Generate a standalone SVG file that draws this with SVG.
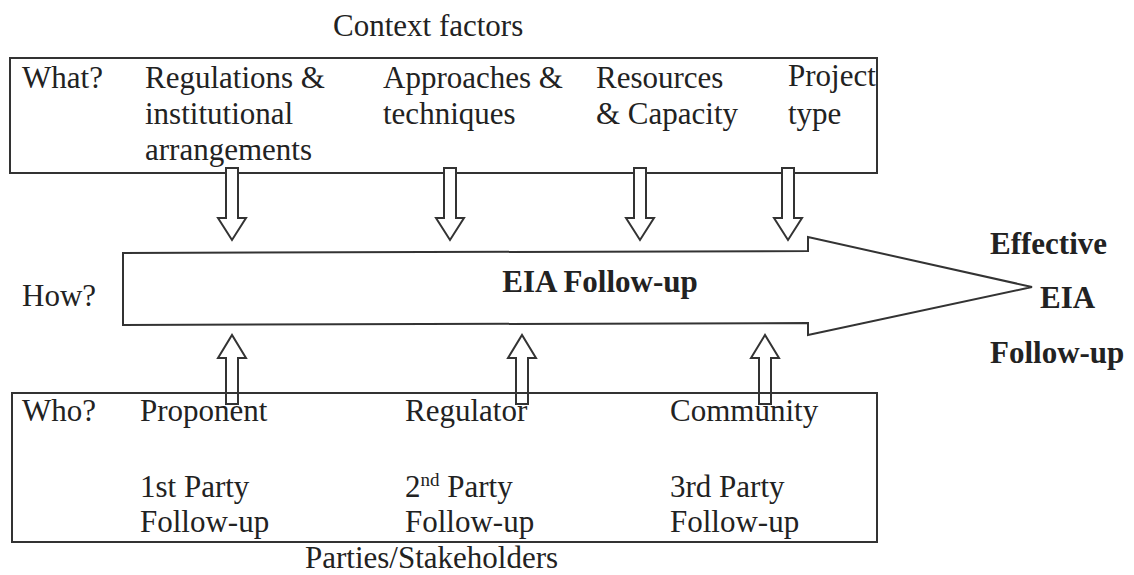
<svg xmlns="http://www.w3.org/2000/svg" width="1134" height="575" viewBox="0 0 1134 575">
  <style>
    .t { font-family: "Liberation Serif", "Times New Roman", serif; font-size: 31px; fill: #222; }
    .b { font-weight: bold; }
    .box { fill: none; stroke: #333; stroke-width: 2; }
    .blk { fill: #fff; stroke: #333; stroke-width: 2; stroke-linejoin: miter; }
  </style>
  <rect width="1134" height="575" fill="#fff"/>

  <text class="t" x="333" y="36">Context factors</text>

  <!-- Context factors box -->
  <g id="context">
    <rect class="box" x="10" y="58" width="867" height="115"/>
    <text class="t" x="22" y="88">What?</text>
    <text class="t" x="145" y="88">Regulations &amp;</text>
    <text class="t" x="145" y="124">institutional</text>
    <text class="t" x="145" y="160">arrangements</text>
    <text class="t" x="383" y="88">Approaches &amp;</text>
    <text class="t" x="383" y="124">techniques</text>
    <text class="t" x="596" y="88">Resources</text>
    <text class="t" x="596" y="124">&amp; Capacity</text>
    <text class="t" x="788" y="86">Project</text>
    <text class="t" x="788" y="124">type</text>
  </g>

  <!-- Main process arrow -->
  <g id="followup">
    <polygon class="blk" points="123,253 808,251 808,237 1032,287 808,335 808,323 123,325"/>
    <text class="t b" x="600" y="292" text-anchor="middle">EIA Follow-up</text>
  </g>
  <text class="t" x="22" y="306">How?</text>

  <g id="outcome">
    <text class="t b" x="990" y="254">Effective</text>
    <text class="t b" x="1040" y="308">EIA</text>
    <text class="t b" x="990" y="363">Follow-up</text>
  </g>

  <!-- Hollow block arrows between boxes and the main arrow -->
  <g id="connectors">
    <polygon class="blk" points="226,168 238,168 238,218 246,218 232,240 218,218 226,218"/>
    <polygon class="blk" points="444,168 456,168 456,218 464,218 450,240 436,218 444,218"/>
    <polygon class="blk" points="634,168 646,168 646,218 654,218 640,240 626,218 634,218"/>
    <polygon class="blk" points="782,168 794,168 794,218 802,218 788,240 774,218 782,218"/>
    <polygon class="blk" points="226,404 238,404 238,358 246,358 232,335 218,358 226,358"/>
    <polygon class="blk" points="516,404 528,404 528,358 536,358 522,335 508,358 516,358"/>
    <polygon class="blk" points="759,404 771,404 771,358 779,358 765,335 751,358 759,358"/>
  </g>

  <!-- Parties box -->
  <g id="parties">
    <rect class="box" x="12" y="393" width="865" height="149"/>
    <text class="t" x="22" y="421">Who?</text>
    <text class="t" x="140" y="421">Proponent</text>
    <text class="t" x="140" y="497">1st Party</text>
    <text class="t" x="140" y="532">Follow-up</text>
    <text class="t" x="405" y="421">Regulator</text>
    <text class="t" x="405" y="497">2<tspan font-size="19" dy="-11">nd</tspan><tspan dy="11"> Party</tspan></text>
    <text class="t" x="405" y="532">Follow-up</text>
    <text class="t" x="670" y="421">Community</text>
    <text class="t" x="670" y="497">3rd Party</text>
    <text class="t" x="670" y="532">Follow-up</text>
  </g>
  <text class="t" x="305" y="568">Parties/Stakeholders</text>
</svg>
